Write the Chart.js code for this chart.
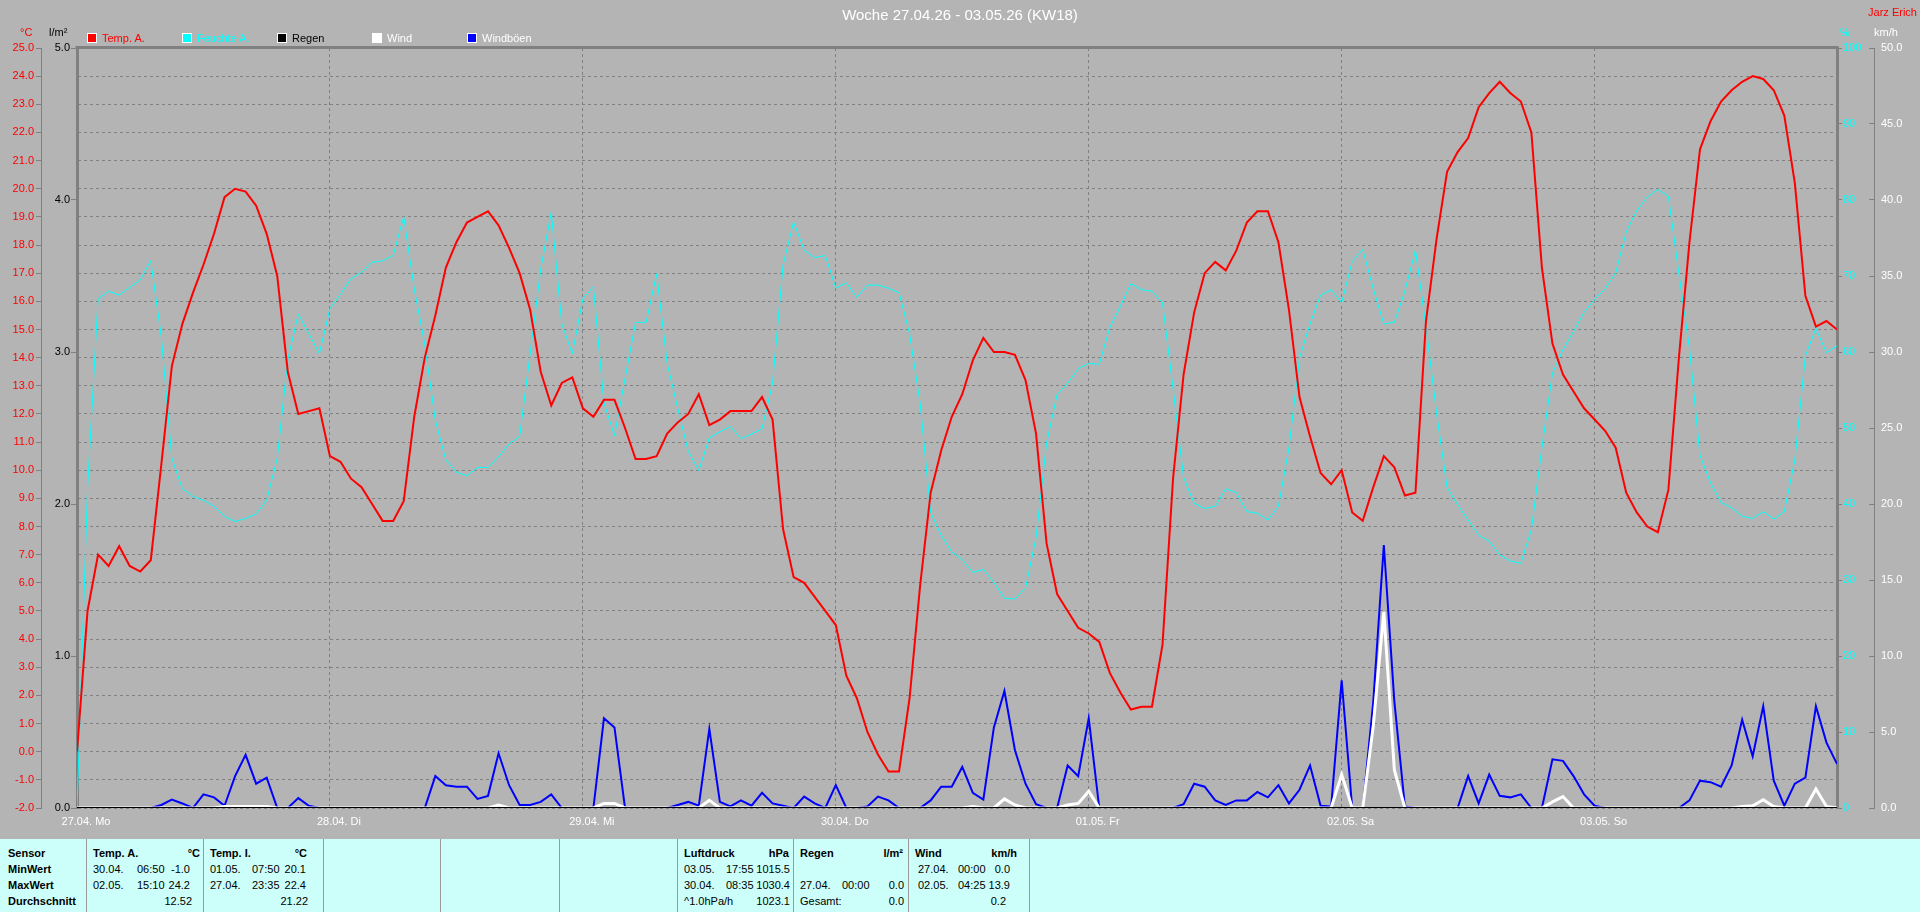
<!DOCTYPE html>
<html lang="de">
<head>
<meta charset="utf-8">
<title>Woche 27.04.26 - 03.05.26 (KW18)</title>
<script src="https://cdn.jsdelivr.net/npm/chart.js@4.4.1/dist/chart.umd.min.js"></script>
<style>
  html, body { margin: 0; padding: 0; }
  body {
    width: 1920px; height: 912px; position: relative; overflow: hidden;
    background: #b4b4b4;
    font-family: 'Liberation Sans', Arial, sans-serif; font-size: 11px;
  }
  #chartBox { position: absolute; left: 0; top: 0; width: 1920px; height: 839px; }
  .t { position: absolute; white-space: nowrap; line-height: 12px; }
  .b { font-weight: bold; }
  #title { left: 0; width: 1920px; top: 6px; text-align: center; font-size: 15px; line-height: 18px; color: #fff; }
  .key { position: absolute; top: 33px; width: 8px; height: 8px; border: 1px solid #fff; }
  #stats { position: absolute; left: 0; top: 839px; width: 1920px; height: 73px; background: #ccfffa; color: #000; }
  .sep { position: absolute; top: 0; width: 1px; height: 73px; background: #9a9a9a; }
</style>
</head>
<body>
<div id="chartBox"><canvas id="weekChart" width="1920" height="839"></canvas></div>

<div id="title" class="t">Woche 27.04.26 - 03.05.26 (KW18)</div>
<div class="t" style="right:3px;top:6px;color:#ff0000">Jarz Erich</div>

<div class="t" style="left:20px;top:26px;color:#ff0000">°C</div>
<div class="t" style="left:49px;top:26px;color:#000">l/m²</div>
<div class="t" style="left:1840px;top:26px;color:#00ffff">%</div>
<div class="t" style="left:1874px;top:26px;color:#fff">km/h</div>

<div id="legend"></div>

<div id="stats"></div>

<script>
// Wochenwerte, stündlich ab 27.04. 00:00 (ein Wert pro Stunde, je Zeile ein Tag)
const hourTemp = [
    0.0, 5.0, 7.0, 6.6, 7.3, 6.6, 6.4, 6.8, 10.2, 13.7, 15.2, 16.3, 17.3, 18.4, 19.7, 20.0, 19.9, 19.4, 18.4, 16.9, 13.5, 12.0, 12.1, 12.2,
    10.5, 10.3, 9.7, 9.4, 8.8, 8.2, 8.2, 8.9, 11.9, 14.0, 15.5, 17.2, 18.1, 18.8, 19.0, 19.2, 18.7, 17.9, 17.0, 15.7, 13.5, 12.3, 13.1, 13.3,
    12.2, 11.9, 12.5, 12.5, 11.5, 10.4, 10.4, 10.5, 11.3, 11.7, 12.0, 12.7, 11.6, 11.8, 12.1, 12.1, 12.1, 12.6, 11.8, 7.9, 6.2, 6.0, 5.5, 5.0,
    4.5, 2.7, 1.9, 0.7, -0.1, -0.7, -0.7, 1.9, 5.9, 9.2, 10.7, 11.9, 12.7, 13.9, 14.7, 14.2, 14.2, 14.1, 13.2, 11.3, 7.4, 5.6, 5.0, 4.4,
    4.2, 3.9, 2.8, 2.1, 1.5, 1.6, 1.6, 3.8, 9.7, 13.4, 15.6, 17.0, 17.4, 17.1, 17.8, 18.8, 19.2, 19.2, 18.1, 15.7, 12.6, 11.2, 9.9, 9.5,
    10.0, 8.5, 8.2, 9.4, 10.5, 10.1, 9.1, 9.2, 15.3, 18.2, 20.6, 21.3, 21.8, 22.9, 23.4, 23.8, 23.4, 23.1, 22.0, 17.2, 14.5, 13.4, 12.8, 12.2,
    11.8, 11.4, 10.8, 9.2, 8.5, 8.0, 7.8, 9.3, 14.0, 18.1, 21.4, 22.4, 23.1, 23.5, 23.8, 24.0, 23.9, 23.5, 22.6, 20.2, 16.2, 15.1, 15.3, 15.0
];

const hourHum = [
    0, 42, 67, 68, 67.5, 68.5, 69.5, 72, 62, 46, 42, 41, 40.5, 39.7, 38.4, 37.7, 38.1, 38.7, 40.5, 46, 59, 65, 62.4, 59.8,
    65.7, 67.6, 69.6, 70.5, 71.8, 72, 72.7, 77.8, 68.3, 61, 51, 45.8, 44.2, 43.7, 44.8, 44.8, 46.2, 47.9, 48.9, 59.8, 70.9, 78.4, 63.7, 59.8,
    67, 68.6, 53.3, 49, 56.5, 63.9, 63.9, 70.3, 58.5, 52.6, 46.9, 44.4, 48.7, 49.5, 50.2, 48.6, 49.2, 49.9, 55.9, 71.5, 77.1, 73.4, 72.4, 72.7,
    68.4, 69.1, 67.2, 68.8, 68.8, 68.4, 67.8, 62.4, 53.3, 38.9, 35.9, 33.7, 32.7, 31, 31.4, 29.7, 27.6, 27.5, 28.9, 35.6, 48, 54.4, 55.9, 57.8,
    58.5, 58.4, 63.2, 66, 69, 68.2, 68, 66.5, 55.2, 43.5, 40.1, 39.4, 39.7, 42, 41.5, 39, 38.8, 37.9, 39.7, 47.4, 59.2, 63.7, 67.5, 68.2,
    66.5, 71.9, 73.5, 68.3, 63.7, 63.9, 68, 73.4, 63.4, 52, 42.2, 39.9, 37.9, 35.9, 35.1, 33.3, 32.5, 32.2, 36.6, 47.4, 57.2, 60.3, 62.7, 65.2,
    66.9, 68.3, 70.4, 75.8, 78.6, 80.4, 81.4, 80.5, 70.3, 60.5, 46.4, 42.8, 40.2, 39.5, 38.4, 38.1, 39, 38, 39, 45.8, 59.5, 63.1, 59.9, 60.8
];

const hourRain = [
    0, 0, 0, 0, 0, 0, 0, 0, 0, 0, 0, 0, 0, 0, 0, 0, 0, 0, 0, 0, 0, 0, 0, 0,
    0, 0, 0, 0, 0, 0, 0, 0, 0, 0, 0, 0, 0, 0, 0, 0, 0, 0, 0, 0, 0, 0, 0, 0,
    0, 0, 0, 0, 0, 0, 0, 0, 0, 0, 0, 0, 0, 0, 0, 0, 0, 0, 0, 0, 0, 0, 0, 0,
    0, 0, 0, 0, 0, 0, 0, 0, 0, 0, 0, 0, 0, 0, 0, 0, 0, 0, 0, 0, 0, 0, 0, 0,
    0, 0, 0, 0, 0, 0, 0, 0, 0, 0, 0, 0, 0, 0, 0, 0, 0, 0, 0, 0, 0, 0, 0, 0,
    0, 0, 0, 0, 0, 0, 0, 0, 0, 0, 0, 0, 0, 0, 0, 0, 0, 0, 0, 0, 0, 0, 0, 0,
    0, 0, 0, 0, 0, 0, 0, 0, 0, 0, 0, 0, 0, 0, 0, 0, 0, 0, 0, 0, 0, 0, 0, 0
];

const hourWind = [
    0, 0, 0, 0, 0, 0, 0, 0, 0, 0, 0, 0, 0, 0, 0.1, 0.1, 0.1, 0.1, 0.1, 0, 0, 0, 0, 0,
    0, 0, 0, 0, 0, 0, 0, 0, 0, 0, 0, 0, 0, 0, 0, 0, 0.2, 0, 0, 0, 0, 0, 0, 0,
    0, 0, 0.3, 0.3, 0, 0, 0, 0, 0, 0, 0, 0, 0.5, 0, 0, 0, 0, 0, 0, 0, 0, 0, 0, 0,
    0, 0, 0, 0, 0, 0, 0, 0, 0, 0, 0, 0, 0, 0.1, 0, 0, 0.6, 0.2, 0, 0, 0, 0, 0.2, 0.3,
    1.1, 0, 0, 0, 0, 0, 0, 0, 0, 0, 0, 0, 0, 0, 0, 0, 0, 0, 0, 0, 0, 0, 0, 0,
    2.2, 0, 0, 5.4, 12.9, 2.5, 0, 0, 0, 0, 0, 0, 0, 0, 0, 0, 0, 0, 0, 0, 0.4, 0.75, 0, 0,
    0, 0, 0, 0, 0, 0, 0, 0, 0, 0, 0, 0, 0, 0, 0.1, 0.15, 0.55, 0.1, 0, 0, 0, 1.25, 0.1, 0
];

const hourGust = [
    0, 0, 0, 0, 0, 0, 0, 0, 0.2, 0.55, 0.3, 0, 0.9, 0.7, 0.15, 2.1, 3.5, 1.6, 2.0, 0, 0, 0.65, 0.15, 0,
    0, 0, 0, 0, 0, 0, 0, 0, 0, 0, 2.1, 1.5, 1.4, 1.4, 0.6, 0.8, 3.6, 1.5, 0.2, 0.2, 0.4, 0.9, 0, 0,
    0, 0, 5.9, 5.3, 0, 0, 0, 0, 0, 0.2, 0.4, 0.15, 5.2, 0.4, 0.1, 0.5, 0.15, 1.0, 0.3, 0.15, 0, 0.75, 0.3, 0,
    1.5, 0, 0, 0.1, 0.75, 0.5, 0, 0, 0, 0.5, 1.4, 1.4, 2.7, 1.0, 0.55, 5.3, 7.7, 3.8, 1.6, 0.25, 0, 0, 2.8, 2.1,
    5.9, 0, 0, 0, 0, 0, 0, 0, 0, 0.25, 1.6, 1.4, 0.5, 0.2, 0.5, 0.5, 1.05, 0.7, 1.5, 0.3, 1.2, 2.8, 0.15, 0.1,
    8.4, 0, 0, 7.0, 17.3, 7.0, 0.1, 0, 0, 0, 0, 0, 2.1, 0.3, 2.2, 0.8, 0.7, 0.9, 0, 0, 3.2, 3.1, 2.1, 0.9,
    0.15, 0, 0, 0, 0, 0, 0, 0, 0, 0.5, 1.8, 1.7, 1.4, 2.8, 5.8, 3.4, 6.7, 1.8, 0.15, 1.6, 2.0, 6.7, 4.3, 2.9
];

// Tagesgrenzen (Stunde seit Wochenbeginn) und ihre Beschriftung
const dayTicks = [0, 24, 48, 72, 96, 120, 144];
const dayLabels = ['27.04. Mo', '28.04. Di', '29.04. Mi', '30.04. Do', '01.05. Fr', '02.05. Sa', '03.05. So'];

// Legende: Name, Linienfarbe, Textfarbe, x-Position
const legendItems = [
    ['Temp. A.', '#ff0000', '#ff0000', 87],
    ['Feuchte A.', '#00ffff', '#00ffff', 182],
    ['Regen', '#000000', '#000000', 277],
    ['Wind', '#ffffff', '#ffffff', 372],
    ['Windböen', '#0000ff', '#ffffff', 467],
];

// Tabelle unten: Trennlinien und Zellen [text, x, zeile, ausrichtung, fett]
const statSeparators = [86, 203, 323, 440, 559, 677, 793, 908, 1029];
const statCells = [
    ['Sensor', 8, 0, 'l', 1], ['MinWert', 8, 1, 'l', 1], ['MaxWert', 8, 2, 'l', 1], ['Durchschnitt', 8, 3, 'l', 1],
    ['Temp. A.', 93, 0, 'l', 1], ['°C', 200, 0, 'r', 1],
    ['30.04.', 93, 1, 'l'], ['06:50', 137, 1, 'l'], ['-1.0', 190, 1, 'r'],
    ['02.05.', 93, 2, 'l'], ['15:10', 137, 2, 'l'], ['24.2', 190, 2, 'r'],
    ['12.52', 192, 3, 'r'],
    ['Temp. I.', 210, 0, 'l', 1], ['°C', 307, 0, 'r', 1],
    ['01.05.', 210, 1, 'l'], ['07:50', 252, 1, 'l'], ['20.1', 306, 1, 'r'],
    ['27.04.', 210, 2, 'l'], ['23:35', 252, 2, 'l'], ['22.4', 306, 2, 'r'],
    ['21.22', 308, 3, 'r'],
    ['Luftdruck', 684, 0, 'l', 1], ['hPa', 789, 0, 'r', 1],
    ['03.05.', 684, 1, 'l'], ['17:55', 726, 1, 'l'], ['1015.5', 790, 1, 'r'],
    ['30.04.', 684, 2, 'l'], ['08:35', 726, 2, 'l'], ['1030.4', 790, 2, 'r'],
    ['^1.0hPa/h', 684, 3, 'l'], ['1023.1', 790, 3, 'r'],
    ['Regen', 800, 0, 'l', 1], ['l/m²', 903, 0, 'r', 1],
    ['27.04.', 800, 2, 'l'], ['00:00', 842, 2, 'l'], ['0.0', 904, 2, 'r'],
    ['Gesamt:', 800, 3, 'l'], ['0.0', 904, 3, 'r'],
    ['Wind', 915, 0, 'l', 1], ['km/h', 1017, 0, 'r', 1],
    ['27.04.', 918, 1, 'l'], ['00:00', 958, 1, 'l'], ['0.0', 1010, 1, 'r'],
    ['02.05.', 918, 2, 'l'], ['04:25', 958, 2, 'l'], ['13.9', 1010, 2, 'r'],
    ['0.2', 1006, 3, 'r'],
];

const axisGray = '#808080';
const gridDash = [3, 3];

function toPoints(values) {
    return values.map((v, i) => ({ x: i, y: v }));
}

function buildLegend() {
    const box = document.getElementById('legend');
    legendItems.forEach(([name, fill, text, x]) => {
        const key = document.createElement('div');
        key.className = 'key';
        key.style.left = x + 'px';
        key.style.background = fill;
        box.appendChild(key);

        const label = document.createElement('div');
        label.className = 't';
        label.style.left = (x + 15) + 'px';
        label.style.top = '32px';
        label.style.color = text;
        label.textContent = name;
        box.appendChild(label);
    });
}

function buildStats() {
    const box = document.getElementById('stats');
    statSeparators.forEach(x => {
        const line = document.createElement('div');
        line.className = 'sep';
        line.style.left = x + 'px';
        box.appendChild(line);
    });
    statCells.forEach(([text, x, row, align, bold]) => {
        const cell = document.createElement('div');
        cell.className = bold ? 't b' : 't';
        cell.style.top = (8 + row * 16) + 'px';
        if (align === 'r') cell.style.right = (1920 - x) + 'px';
        else cell.style.left = x + 'px';
        cell.textContent = text;
        box.appendChild(cell);
    });
}

// Rahmenlinie oben am Diagramm
const plotFrame = {
    id: 'plotFrame',
    beforeDatasetsDraw(chart) {
        const { ctx, chartArea: a } = chart;
        ctx.save();
        ctx.strokeStyle = axisGray;
        ctx.lineWidth = 3;
        ctx.beginPath();
        ctx.moveTo(a.left - 1.5, a.top - 0.5);
        ctx.lineTo(a.right + 1.5, a.top - 0.5);
        ctx.stroke();
        ctx.restore();
    }
};

function renderWeekChart() {
    Chart.defaults.font.family = "'Liberation Sans', Arial, sans-serif";
    Chart.defaults.font.size = 11;

    const ctx = document.getElementById('weekChart').getContext('2d');
    new Chart(ctx, {
        type: 'line',
        data: {
            datasets: [
                { label: 'Regen', data: toPoints(hourRain), yAxisID: 'yR', borderColor: '#000000', borderWidth: 2, order: 0 },
                { label: 'Wind', data: toPoints(hourWind), yAxisID: 'yW', borderColor: '#ffffff', borderWidth: 3, order: 1 },
                { label: 'Windböen', data: toPoints(hourGust), yAxisID: 'yW', borderColor: '#0000ff', borderWidth: 2, order: 2 },
                { label: 'Temp. A.', data: toPoints(hourTemp), yAxisID: 'yT', borderColor: '#ff0000', borderWidth: 2, order: 3 },
                { label: 'Feuchte A.', data: toPoints(hourHum), yAxisID: 'yH', borderColor: '#00ffff', borderWidth: 1, order: 4 },
            ],
        },
        options: {
            responsive: false,
            animation: false,
            devicePixelRatio: 1,
            layout: { padding: { top: 48, left: 0, right: 0, bottom: 0 } },
            elements: {
                point: { radius: 0, hoverRadius: 0 },
                line: { tension: 0, fill: false },
            },
            plugins: {
                legend: { display: false },
                title: { display: false },
                tooltip: { enabled: false },
            },
            scales: {
                x: {
                    type: 'linear',
                    min: 0,
                    max: 167,
                    afterBuildTicks: scale => { scale.ticks = dayTicks.map(v => ({ value: v })); },
                    afterFit: scale => { scale.height = 31; },
                    ticks: {
                        color: '#ffffff',
                        padding: 7,
                        labelOffset: 9,
                        maxRotation: 0,
                        autoSkip: false,
                        callback: (value, index) => dayLabels[index],
                    },
                    grid: { color: axisGray, drawTicks: false },
                    border: { display: false, dash: gridDash },
                },
                yT: {
                    position: 'left',
                    weight: 2,
                    min: -2,
                    max: 25,
                    afterFit: scale => { scale.width = 41; },
                    ticks: { stepSize: 1, color: '#ff0000', padding: 2, callback: v => v.toFixed(1) },
                    grid: { color: axisGray, tickColor: axisGray, tickLength: 5, tickBorderDash: [] },
                    border: { color: axisGray, width: 1, dash: gridDash },
                },
                yR: {
                    position: 'left',
                    weight: 1,
                    min: 0,
                    max: 5,
                    afterFit: scale => { scale.width = 36; },
                    ticks: { stepSize: 1, color: '#000000', padding: 1, callback: v => v.toFixed(1) },
                    grid: { drawOnChartArea: false, tickColor: axisGray, tickLength: 6 },
                    border: { color: axisGray, width: 3 },
                },
                yH: {
                    position: 'right',
                    weight: 1,
                    min: 0,
                    max: 100,
                    afterFit: scale => { scale.width = 37; },
                    ticks: { stepSize: 10, color: '#00ffff', padding: 1 },
                    grid: { drawOnChartArea: false, tickColor: axisGray, tickLength: 5 },
                    border: { color: axisGray, width: 3 },
                },
                yW: {
                    position: 'right',
                    weight: 2,
                    min: 0,
                    max: 50,
                    afterFit: scale => { scale.width = 46; },
                    // Striche links von der Achsenlinie, wie im Original
                    ticks: { stepSize: 5, color: '#ffffff', padding: 12, callback: v => v.toFixed(1) },
                    grid: { drawOnChartArea: false, tickColor: axisGray, tickLength: -5 },
                    border: { color: axisGray, width: 1 },
                },
            },
        },
        plugins: [plotFrame],
    });
}

buildLegend();
buildStats();
renderWeekChart();
</script>
</body>
</html>
